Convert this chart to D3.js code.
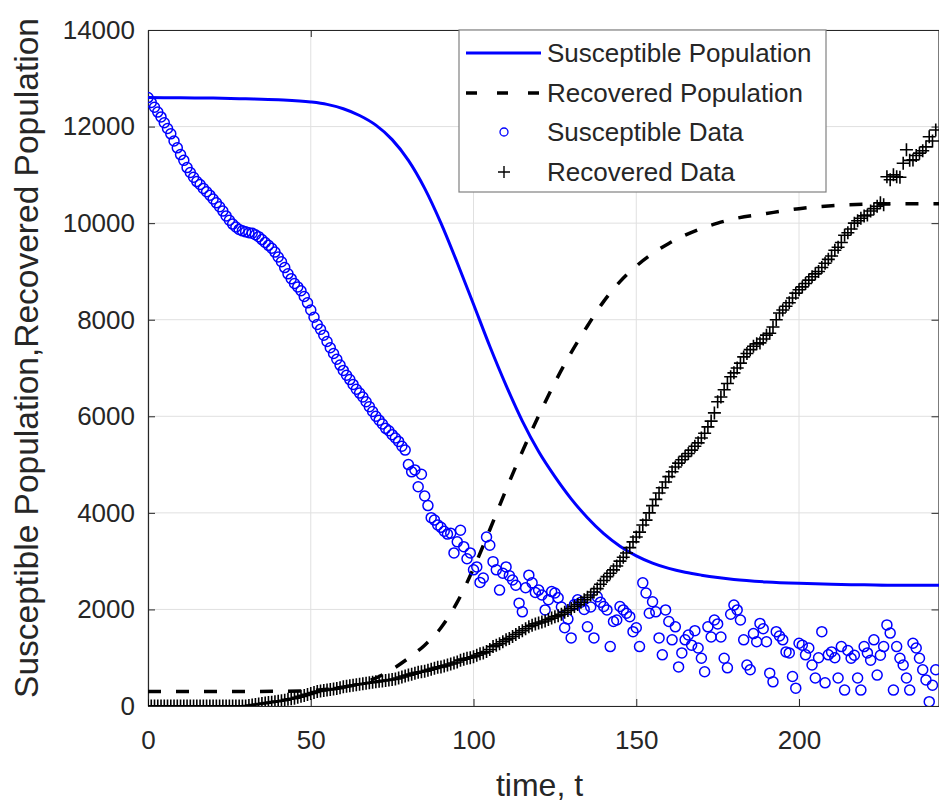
<!DOCTYPE html>
<html>
<head>
<meta charset="utf-8">
<script src="https://d3js.org/d3.v7.min.js"></script>
<style>
  body { margin: 0; background: #fff; }
  svg text { font-family: "Liberation Sans", Arial, Helvetica, sans-serif; }
</style>
</head>
<body>
<div id="my_dataviz"></div>
<script>
// model curves
var susModelT = [0, 10, 20, 30, 40, 50, 55, 60, 65, 70, 75, 80, 85, 90, 95, 100, 105, 110, 115, 120, 125, 130, 135, 140, 145, 150, 155, 160, 165, 170, 175, 180, 190, 200, 210, 220, 230, 243];
var susModelV = [12600, 12595, 12590, 12575, 12555, 12510, 12460, 12370, 12230, 12030, 11730, 11300, 10720, 10000, 9180, 8320, 7450, 6640, 5900, 5270, 4750, 4290, 3900, 3570, 3310, 3110, 2960, 2850, 2770, 2710, 2660, 2620, 2570, 2540, 2520, 2510, 2500, 2500];

var recModelT = [0, 20, 40, 50, 55, 60, 65, 70, 75, 80, 85, 90, 95, 100, 105, 110, 115, 120, 125, 130, 135, 140, 145, 150, 155, 160, 165, 170, 175, 180, 190, 200, 210, 220, 230, 243];
var recModelV = [300, 300, 305, 320, 345, 390, 460, 580, 760, 990, 1260, 1620, 2150, 2850, 3650, 4480, 5270, 6010, 6700, 7320, 7870, 8380, 8790, 9110, 9370, 9580, 9750, 9890, 10000, 10090, 10200, 10300, 10360, 10390, 10400, 10400];

// daily data, t = 0 .. 242
var susData = [
  12600, 12500, 12400, 12300, 12200, 12080, 11960, 11850, 11700, 11560,
  11420, 11300, 11150, 11050, 10950, 10860, 10800, 10720, 10650, 10580,
  10500, 10420, 10340, 10250, 10150, 10060, 9980, 9920, 9870, 9840,
  9820, 9800, 9790, 9760, 9720, 9660, 9600, 9540, 9480, 9400,
  9300, 9200, 9080, 8950, 8850, 8750, 8680, 8600, 8480, 8350,
  8200, 8050, 7900, 7800, 7680, 7550, 7420, 7300, 7180, 7060,
  6950, 6850, 6760, 6660, 6560, 6480, 6400, 6300, 6200, 6100,
  6000, 5920, 5840, 5750, 5700, 5620, 5550, 5480, 5380, 5300,
  5000, 4850, 4890, 4540, 4800, 4350, 4150, 3900, 3850, 3750,
  3700, 3620, 3560, 3580, 3170, 3400, 3640, 3300, 3050, 3170,
  2820, 2880, 2560, 2650, 3500, 3330, 2990, 2820, 2400, 2750,
  2880, 2700, 2610, 2500, 2130, 1950, 2450, 2710, 2550, 2350,
  2400, 2300, 1990, 2200, 2370, 2340, 2240, 2050, 1620, 1800,
  1410, 2100, 2200, 2150, 2000, 1640, 2050, 1410, 2260, 2150,
  2060, 1990, 1230, 1750, 1780, 2060, 1990, 1920, 1850, 1540,
  1620, 1230, 2550, 2340, 1920, 2160, 1950, 1410, 1060, 1990,
  1750, 1370, 1640, 810, 1100, 1370, 1470, 1260, 1560, 1200,
  990, 710, 1640, 1430, 1780, 1700, 1430, 990, 790, 1900,
  2090, 1990, 1780, 1370, 850, 750, 1500, 1330, 1710, 1600,
  1330, 680, 500, 1540, 1450, 1370, 1120, 1100, 610, 370,
  1300, 1260, 1060, 1200, 850, 580, 1000, 1540, 480, 1060,
  1120, 1000, 580, 1230, 330, 1150, 990, 1050, 580, 330,
  1230, 1100, 950, 1370, 640, 1050, 1230, 1680, 1510, 330,
  1230, 990, 850, 580, 330, 1300, 1200, 990, 750, 540,
  90, 430, 750
];

var recData = [
  0, 0, 0, 0, 0, 0, 0, 0, 0, 0,
  0, 0, 0, 0, 0, 0, 0, 0, 0, 0,
  0, 0, 0, 0, 0, 0, 0, 0, 0, 0,
  0, 10, 20, 30, 40, 50, 60, 70, 80, 90,
  100, 110, 120, 140, 150, 160, 180, 200, 220, 240,
  260, 280, 300, 310, 320, 330, 340, 350, 360, 380,
  400, 410, 420, 430, 440, 450, 460, 470, 480, 490,
  500, 510, 520, 530, 540, 550, 560, 580, 600, 620,
  640, 660, 680, 700, 710, 720, 740, 760, 780, 800,
  810, 830, 850, 870, 890, 910, 950, 970, 990, 1000,
  1020, 1050, 1080, 1100, 1130, 1170, 1230, 1260, 1290, 1330,
  1370, 1400, 1440, 1480, 1520, 1560, 1600, 1640, 1670, 1700,
  1720, 1740, 1760, 1790, 1820, 1850, 1870, 1900, 1940, 1980,
  2020, 2060, 2100, 2150, 2200, 2250, 2300, 2360, 2430, 2520,
  2600, 2680, 2750, 2820, 2900, 3000, 3080, 3170, 3280, 3400,
  3500, 3600, 3750, 3850, 4000, 4150, 4280, 4410, 4520, 4640,
  4750, 4850, 4950, 5030, 5100, 5170, 5230, 5300, 5380, 5450,
  5550, 5650, 5780, 5900, 6070, 6300, 6400, 6550, 6680, 6820,
  6900, 7000, 7100, 7230, 7300, 7380, 7450, 7500, 7520, 7600,
  7680, 7720, 7850, 8000, 8140, 8200, 8280, 8350, 8450, 8550,
  8620, 8680, 8750, 8820, 8890, 8950, 9000, 9080, 9170, 9250,
  9320, 9440, 9500, 9600, 9750, 9800, 9880, 10000, 10050, 10100,
  10150, 10170, 10250, 10300, 10350, 10420, 10380, 10960, 10900, 11000,
  10960, 10950, 11240, 11520, 11300, 11310, 11400, 11450, 11500, 11580,
  11790, 11700, 11930
];

var xTicks = [0, 50, 100, 150, 200];
var yTicks = [0, 2000, 4000, 6000, 8000, 10000, 12000, 14000];
var legendLabels = ["Susceptible Population", "Recovered Population", "Susceptible Data", "Recovered Data"];

// set the dimensions and margins of the graph
var W = 939, H = 806;
var margin = { top: 30, right: 0, bottom: 100, left: 148 },
    width = W - margin.left - margin.right,
    height = H - margin.top - margin.bottom;

var svg = d3.select("#my_dataviz")
    .append("svg")
    .attr("width", W)
    .attr("height", H);

var g = svg.append("g")
    .attr("transform", "translate(" + margin.left + "," + margin.top + ")");

var x = d3.scaleLinear().domain([0, 243]).range([0, width]);
var y = d3.scaleLinear().domain([0, 14000]).range([height, 0]);

// grid
g.append("g").selectAll("line").data(xTicks).enter().append("line")
    .attr("x1", function(d) { return x(d); })
    .attr("x2", function(d) { return x(d); })
    .attr("y1", 0).attr("y2", height)
    .attr("stroke", "#e0e0e0").attr("stroke-width", 1);
g.append("g").selectAll("line").data(yTicks).enter().append("line")
    .attr("y1", function(d) { return y(d); })
    .attr("y2", function(d) { return y(d); })
    .attr("x1", 0).attr("x2", width)
    .attr("stroke", "#e0e0e0").attr("stroke-width", 1);

// axes (ticks inside, MATLAB style), mirrored on top/right
var fmt = d3.format("d");
var xAxis = g.append("g")
    .attr("transform", "translate(0," + height + ")")
    .call(d3.axisBottom(x).tickValues(xTicks).tickFormat(fmt).tickSizeInner(-7).tickSizeOuter(0).tickPadding(25));
var yAxis = g.append("g")
    .call(d3.axisLeft(y).tickValues(yTicks).tickFormat(fmt).tickSizeInner(-7).tickSizeOuter(0).tickPadding(13));
var xTop = g.append("g")
    .call(d3.axisTop(x).tickValues(xTicks).tickFormat("").tickSizeInner(-7).tickSizeOuter(0));
var yRight = g.append("g")
    .attr("transform", "translate(" + (width - 0.5) + ",0)")
    .call(d3.axisRight(y).tickValues(yTicks).tickFormat("").tickSizeInner(-7).tickSizeOuter(0));
[xAxis, yAxis, xTop, yRight].forEach(function(a) {
    a.select(".domain").attr("stroke", "#262626").attr("stroke-width", 1.2);
    a.selectAll(".tick line").attr("stroke", "#262626");
    a.selectAll(".tick text").attr("fill", "#262626").style("font-size", "26px");
});

g.append("clipPath").attr("id", "clip")
    .append("rect").attr("width", width).attr("height", height);
var plot = g.append("g").attr("clip-path", "url(#clip)");

var line = d3.line()
    .x(function(d) { return x(d[0]); })
    .y(function(d) { return y(d[1]); })
    .curve(d3.curveMonotoneX);

// model lines
plot.append("path")
    .datum(d3.zip(susModelT, susModelV))
    .attr("d", line)
    .attr("fill", "none")
    .attr("stroke", "#0000ff")
    .attr("stroke-width", 3);

plot.append("path")
    .datum(d3.zip(recModelT, recModelV))
    .attr("d", line)
    .attr("fill", "none")
    .attr("stroke", "#000")
    .attr("stroke-width", 3.5)
    .attr("stroke-dasharray", "13,15");

// susceptible data circles
plot.append("g").selectAll("circle").data(susData).enter().append("circle")
    .attr("cx", function(d, i) { return x(i); })
    .attr("cy", function(d) { return y(d); })
    .attr("r", 5)
    .attr("fill", "none")
    .attr("stroke", "#0000ff")
    .attr("stroke-width", 1.5);

// recovered data plus signs
plot.append("g").selectAll("path").data(recData).enter().append("path")
    .attr("d", function(d, i) {
        var cx = x(i), cy = y(d), s = 6.5;
        return "M" + (cx - s) + "," + cy + "H" + (cx + s) + "M" + cx + "," + (cy - s) + "V" + (cy + s);
    })
    .attr("stroke", "#000")
    .attr("stroke-width", 1.6)
    .attr("fill", "none");

// axis labels
svg.append("text")
    .attr("x", margin.left + width / 2 - 4)
    .attr("y", 796)
    .attr("text-anchor", "middle")
    .attr("fill", "#262626")
    .style("font-size", "32px")
    .text("time, t");

svg.append("text")
    .attr("transform", "translate(38," + 358 + ") rotate(-90)")
    .attr("text-anchor", "middle")
    .attr("fill", "#262626")
    .style("font-size", "33.5px")
    .text("Susceptible Population,Recovered Population");

// legend
var lg = svg.append("g").attr("transform", "translate(459,30)");
lg.append("rect")
    .attr("width", 367).attr("height", 162)
    .attr("fill", "#fff")
    .attr("stroke", "#808080")
    .attr("stroke-width", 1.2);

var rowY = [23, 63, 102, 142];
legendLabels.forEach(function(lbl, i) {
    var ry = rowY[i];
    if (i === 0) {
        lg.append("line").attr("x1", 7).attr("x2", 82).attr("y1", ry).attr("y2", ry)
            .attr("stroke", "#0000ff").attr("stroke-width", 3);
    } else if (i === 1) {
        lg.append("line").attr("x1", 7).attr("x2", 82).attr("y1", ry).attr("y2", ry)
            .attr("stroke", "#000").attr("stroke-width", 3.5).attr("stroke-dasharray", "11,20");
    } else if (i === 2) {
        lg.append("circle").attr("cx", 45).attr("cy", ry).attr("r", 4)
            .attr("fill", "none").attr("stroke", "#0000ff").attr("stroke-width", 1.3);
    } else {
        lg.append("path").attr("d", "M39," + ry + "H51M45," + (ry - 6) + "V" + (ry + 6))
            .attr("stroke", "#000").attr("stroke-width", 1.4);
    }
    lg.append("text")
        .attr("x", 88)
        .attr("y", ry)
        .attr("dy", "0.35em")
        .attr("fill", "#262626")
        .style("font-size", "26px")
        .text(lbl);
});
</script>
</body>
</html>
